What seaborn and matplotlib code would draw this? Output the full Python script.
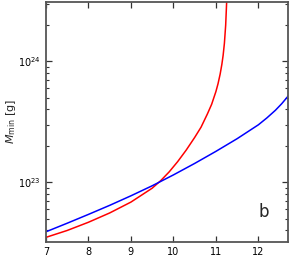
import numpy as np
import pandas as pd
import matplotlib
matplotlib.use("Agg")
import matplotlib.pyplot as plt
import matplotlib.ticker as mticker
import seaborn as sns

# valores (x, log10 M_min)
x_red = [7.0, 7.5, 8.0, 8.5, 9.0, 9.5, 9.7, 9.9, 10.1, 10.3, 10.5, 10.65, 10.8, 10.9,
         11.0, 11.05, 11.1, 11.14, 11.17, 11.2, 11.23, 11.26]
logm_red = [22.543, 22.600, 22.668, 22.745, 22.835, 22.950, 23.012, 23.085, 23.170, 23.265,
            23.370, 23.455, 23.565, 23.645, 23.750, 23.815, 23.895, 23.975, 24.050, 24.150,
            24.300, 24.550]

x_blue = [7.0, 7.5, 8.0, 8.5, 9.0, 9.5, 10.0, 10.5, 11.0, 11.5, 12.0, 12.2, 12.4, 12.55, 12.71]
logm_blue = [22.589, 22.660, 22.733, 22.808, 22.887, 22.970, 23.060, 23.155, 23.255,
             23.360, 23.475, 23.532, 23.595, 23.650, 23.717]

x_ticks = [7, 8, 9, 10, 11, 12]

df = pd.concat([
    pd.DataFrame({"x": x_red, "M": 10 ** np.array(logm_red), "serie": "rojo"}),
    pd.DataFrame({"x": x_blue, "M": 10 ** np.array(logm_blue), "serie": "azul"}),
])

sns.set_style("ticks")
plt.rcParams["font.family"] = ["DejaVu Sans"]

fig = plt.figure(figsize=(2.89, 2.56), dpi=100)
ax = fig.add_axes([0.159, 0.055, 0.838, 0.937])

sns.lineplot(data=df, x="x", y="M", hue="serie", palette={"rojo": "red", "azul": "blue"},
             linewidth=1.1, legend=False, ax=ax, estimator=None, sort=False)

ax.set_yscale("log")
ax.set_xlim(7, 12.7)
ax.set_ylim(3.2e22, 3.1e24)
ax.set_xticks(x_ticks)
ax.yaxis.set_minor_formatter(mticker.NullFormatter())
ax.tick_params(which="both", direction="in", top=True, right=True, labelsize=7, colors="#333333",
               labelcolor="black")
ax.tick_params(which="major", length=4, width=0.9)
ax.tick_params(which="minor", length=2.2, width=0.8)
for s in ax.spines.values():
    s.set_linewidth(1.3)
    s.set_color("#555555")

ax.set_xlabel("")
ax.set_ylabel(r"$M_{\rm min}$ [g]", fontsize=8)
ax.yaxis.set_label_coords(-0.115, 0.5)
ax.text(0.9, 0.125, "b", transform=ax.transAxes, fontsize=12, ha="center", va="center")

fig.savefig("out.png", dpi=100)
